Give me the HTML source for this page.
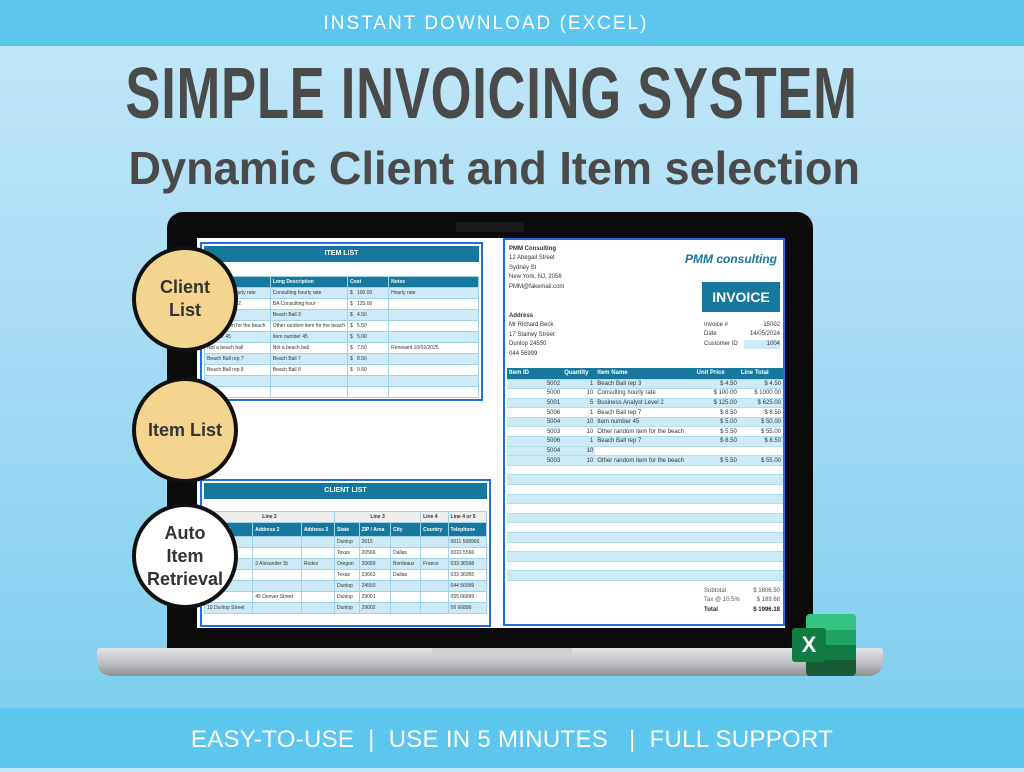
<!DOCTYPE html>
<html><head><meta charset="utf-8"><style>
*{margin:0;padding:0;box-sizing:border-box}
body{width:1024px;height:768px;overflow:hidden;position:relative;font-family:"Liberation Sans",sans-serif;background:linear-gradient(180deg,#c3e8f8 0%,#a6dcf4 45%,#79cdef 100%)}
.abs{position:absolute}
.bar{left:0;width:1024px;background:#5cc6ef;color:#fff;text-align:center}
.t1{left:0;width:1024px;text-align:center;color:#4a4a4a;font-weight:bold;white-space:nowrap}
.circle{position:absolute;border:4px solid #111;border-radius:50%;background:#f3d590;display:flex;align-items:center;justify-content:center;text-align:center;font-weight:bold;color:#333;font-size:18px;line-height:23px}
table{border-collapse:collapse;width:100%;font-size:5px;color:#333}
td{height:11px;border:1px solid #9fd3ec;padding:0 2px;white-space:nowrap;overflow:hidden}
tr.a td{background:#cdeaf7}
tr.b td{background:#fff}
tr.h td{background:#16789c;color:#fff;font-weight:bold}
.inv td{border:none;border-bottom:1px solid #b4dcef;height:9.6px;font-size:6px}
</style></head><body>
<div class="abs bar" style="top:0;height:46px;font-size:19px;line-height:48px;letter-spacing:2px"><span style="position:relative;left:-26px">INSTANT DOWNLOAD (EXCEL)</span></div>
<div class="abs t1" style="top:56px;font-size:72px;line-height:76px;letter-spacing:1px;left:-20px"><span style="display:inline-block;transform:scaleX(0.73)">SIMPLE INVOICING SYSTEM</span></div>
<div class="abs t1" style="top:142px;font-size:46px;line-height:52px;left:-18px"><span style="display:inline-block;transform:scaleX(0.98)">Dynamic Client and Item selection</span></div>

<!-- laptop -->
<div class="abs" style="left:167px;top:212px;width:646px;height:440px;background:#0b0b0b;border-radius:16px 16px 0 0"></div>
<div class="abs" style="left:456px;top:222px;width:68px;height:10px;background:#1b1b1b;border-radius:3px"></div>
<div class="abs" style="left:97px;top:648px;width:786px;height:28px;background:linear-gradient(180deg,#e4e5e7,#b8babd 60%,#8d8f92);border-radius:3px 3px 14px 14px"></div>
<div class="abs" style="left:432px;top:648px;width:140px;height:8px;background:#cfd0d2;border-radius:0 0 6px 6px"></div>
<div class="abs" style="left:197px;top:238px;width:588px;height:390px;background:#fff"></div>

<!-- item list -->
<div class="abs" style="left:200px;top:242px;width:283px;height:159px;border:2px solid #1f6fe0;background:#fff;padding:2px">
 <div style="background:#16789c;color:#fff;font-size:7px;font-weight:bold;text-align:center;height:16px;line-height:16px">ITEM LIST</div>
 <div style="height:14px"></div>
 <table><tr class="h"><td style="width:24%">Description</td><td style="width:26%">Long Description</td><td style="width:15%">Cost</td><td>Notes</td></tr>
 <tr class="a"><td>Consulting hourly rate</td><td>Consulting hourly rate</td><td>$ &nbsp; 100.00</td><td>Hourly rate</td></tr>
 <tr class="b"><td>Analyst Level 2</td><td>BA Consulting hour</td><td>$ &nbsp; 125.00</td><td></td></tr>
 <tr class="a"><td>Ball rep 3</td><td>Beach Ball 3</td><td>$ &nbsp; 4.50</td><td></td></tr>
 <tr class="b"><td>random item for the beach</td><td>Other random item for the beach</td><td>$ &nbsp; 5.50</td><td></td></tr>
 <tr class="a"><td>number 45</td><td>Item number 45</td><td>$ &nbsp; 5.00</td><td></td></tr>
 <tr class="b"><td>Not a beach ball</td><td>Not a beach ball</td><td>$ &nbsp; 7.50</td><td>Renewed 10/02/2025</td></tr>
 <tr class="a"><td>Beach Ball rep 7</td><td>Beach Ball 7</td><td>$ &nbsp; 8.50</td><td></td></tr>
 <tr class="b"><td>Beach Ball rep 8</td><td>Beach Ball 8</td><td>$ &nbsp; 9.50</td><td></td></tr>
 <tr class="a"><td></td><td></td><td></td><td></td></tr>
 <tr class="b"><td></td><td></td><td></td><td></td></tr></table>
</div>

<!-- client list -->
<div class="abs" style="left:200px;top:479px;width:291px;height:148px;border:2px solid #1f6fe0;background:#fff;padding:2px">
 <div style="background:#16789c;color:#fff;font-size:7px;font-weight:bold;text-align:center;height:16px;line-height:16px">CLIENT LIST</div>
 <div style="height:12px"></div>
 <table><tr><td colspan="3" style="background:#eee;height:8px;text-align:center;font-weight:bold">Line 2</td><td colspan="3" style="background:#eee;text-align:center;font-weight:bold">Line 3</td><td style="background:#eee;font-weight:bold">Line 4</td><td style="background:#eee;font-weight:bold">Line 4 or 5</td></tr>
 <tr class="h"><td style="height:14px">Address 1</td><td>Address 2</td><td>Address 3</td><td>State</td><td>ZIP / Area</td><td>City</td><td>Country</td><td>Telephone</td></tr>
 <tr class="a"><td>Street</td><td></td><td></td><td>Dunlop</td><td>2615</td><td></td><td></td><td>0011 568966</td></tr>
 <tr class="b"><td>d</td><td></td><td></td><td>Texas</td><td>20566</td><td>Dallas</td><td></td><td>0022 5566</td></tr>
 <tr class="a"><td></td><td>3 Alexander St</td><td>Rodez</td><td>Oregon</td><td>20689</td><td>Bordeaux</td><td>France</td><td>033 36598</td></tr>
 <tr class="b"><td>Street</td><td></td><td></td><td>Texas</td><td>23663</td><td>Dallas</td><td></td><td>033 36955</td></tr>
 <tr class="a"><td>y Street</td><td></td><td></td><td>Dunlop</td><td>24550</td><td></td><td></td><td>044 56999</td></tr>
 <tr class="b"><td></td><td>45 Denver Street</td><td></td><td>Dunlop</td><td>29001</td><td></td><td></td><td>055 66899</td></tr>
 <tr class="a"><td>10 Dunlop Street</td><td></td><td></td><td>Dunlop</td><td>29002</td><td></td><td></td><td>56 66899</td></tr></table>
</div>

<!-- invoice -->
<div class="abs" style="left:503px;top:238px;width:282px;height:388px;border:2px solid #1f6fe0;background:#fff;font-size:6px;color:#333">
 <div class="abs" style="left:4px;top:5px;line-height:9.4px"><b>PMM Consulting</b><br>12 Abegail Street<br>Sydney St<br>New York, NJ, 2056<br>PMM@fakemail.com</div>
 <div class="abs" style="right:6px;top:12px;font-size:12px;font-weight:bold;font-style:italic;color:#16789c">PMM consulting</div>
 <div class="abs" style="left:197px;top:42px;width:78px;height:30px;background:#16789c;color:#fff;font-size:14px;font-weight:bold;text-align:center;line-height:30px">INVOICE</div>
 <div class="abs" style="left:4px;top:72px;line-height:9.4px"><b>Address</b><br>Mr Richard Beck<br>17 Stairwy Street<br>Dunlop 24550<br>044 56999</div>
 <div class="abs" style="left:199px;top:81px;width:76px;line-height:9.4px">Invoice #<span style="float:right">15002</span><br>Date<span style="float:right">14/05/2024</span><br>Customer ID<span style="float:right;background:#cdeaf7;width:36px;text-align:right">1004</span></div>
 <table class="inv abs" style="left:2px;top:128px;width:276px">
 <tr class="h"><td style="height:11px;width:20%">Item ID</td><td style="width:12%">Quantity</td><td style="width:36%">Item Name</td><td style="width:16%">Unit Price</td><td>Line Total</td></tr>
 <tr class="a"><td style="text-align:right">5002</td><td style="text-align:right">1</td><td>Beach Ball rep 3</td><td style="text-align:right">$ 4.50</td><td style="text-align:right">$ 4.50</td></tr>
 <tr class="b"><td style="text-align:right">5000</td><td style="text-align:right">10</td><td>Consulting hourly rate</td><td style="text-align:right">$ 100.00</td><td style="text-align:right">$ 1000.00</td></tr>
 <tr class="a"><td style="text-align:right">5001</td><td style="text-align:right">5</td><td>Business Analyst Level 2</td><td style="text-align:right">$ 125.00</td><td style="text-align:right">$ 625.00</td></tr>
 <tr class="b"><td style="text-align:right">5006</td><td style="text-align:right">1</td><td>Beach Ball rep 7</td><td style="text-align:right">$ 8.50</td><td style="text-align:right">$ 8.50</td></tr>
 <tr class="a"><td style="text-align:right">5004</td><td style="text-align:right">10</td><td>Item number 45</td><td style="text-align:right">$ 5.00</td><td style="text-align:right">$ 50.00</td></tr>
 <tr class="b"><td style="text-align:right">5003</td><td style="text-align:right">10</td><td>Other random item for the beach</td><td style="text-align:right">$ 5.50</td><td style="text-align:right">$ 55.00</td></tr>
 <tr class="a"><td style="text-align:right">5006</td><td style="text-align:right">1</td><td>Beach Ball rep 7</td><td style="text-align:right">$ 8.50</td><td style="text-align:right">$ 8.50</td></tr>
 <tr class="a"><td style="text-align:right">5004</td><td style="text-align:right">10</td><td style="background:#fff"></td><td style="background:#fff"></td><td style="background:#fff"></td></tr>
 <tr class="a"><td style="text-align:right">5003</td><td style="text-align:right">10</td><td>Other random item for the beach</td><td style="text-align:right">$ 5.50</td><td style="text-align:right">$ 55.00</td></tr>
 <tr class="b"><td colspan="5"></td></tr><tr class="a"><td colspan="5"></td></tr><tr class="b"><td colspan="5"></td></tr><tr class="a"><td colspan="5"></td></tr><tr class="b"><td colspan="5"></td></tr><tr class="a"><td colspan="5"></td></tr><tr class="b"><td colspan="5"></td></tr><tr class="a"><td colspan="5"></td></tr><tr class="b"><td colspan="5"></td></tr><tr class="a"><td colspan="5"></td></tr><tr class="b"><td colspan="5"></td></tr><tr class="a"><td colspan="5"></td></tr>
 </table>
 <div class="abs" style="left:199px;top:347px;width:76px;line-height:9.4px;color:#555">Subtotal<span style="float:right">$ 1806.50</span><br>Tax @ 10.5%<span style="float:right">$ 189.68</span><br><b style="color:#222">Total<span style="float:right">$ 1996.18</span></b></div>
</div>

<!-- circles -->
<div class="circle" style="left:132px;top:246px;width:106px;height:106px">Client<br>List</div>
<div class="circle" style="left:132px;top:377px;width:106px;height:106px">Item List</div>
<div class="circle" style="left:132px;top:503px;width:106px;height:106px;background:#fff">Auto<br>Item<br>Retrieval</div>

<!-- excel icon -->
<div class="abs" style="left:806px;top:614px;width:50px;height:62px;border-radius:4px;overflow:hidden">
 <div style="height:16px;background:#33c481"></div><div style="height:15px;background:#21a366"></div><div style="height:15px;background:#107c41"></div><div style="height:16px;background:#185c37"></div>
</div>
<div class="abs" style="left:792px;top:628px;width:34px;height:34px;background:#107c41;border-radius:3px;color:#fff;font-weight:bold;font-size:22px;text-align:center;line-height:34px">X</div>

<div class="abs bar" style="top:708px;height:60px;font-size:24px;line-height:64px;letter-spacing:0.3px">EASY-TO-USE &nbsp;| &nbsp;USE IN 5 MINUTES &nbsp; | &nbsp;FULL SUPPORT</div>
</body></html>
